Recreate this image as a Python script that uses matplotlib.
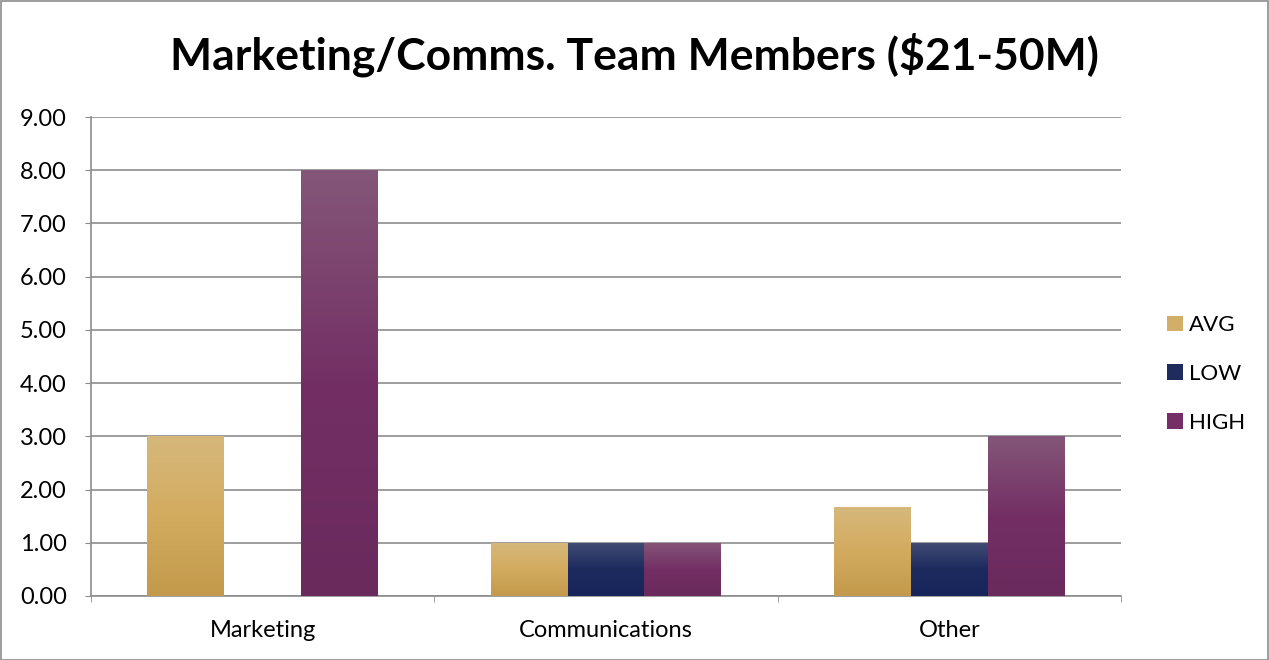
import matplotlib.pyplot as plt
import numpy as np
from matplotlib.colors import LinearSegmentedColormap
from matplotlib.patches import Patch, Rectangle

plt.rcParams["font.family"] = ["Lato", "DejaVu Sans"]

categories = ["Marketing", "Communications", "Other"]
series_names = ["AVG", "LOW", "HIGH"]
avg_values = [3.0, 1.0, 1.67]
low_values = [0.0, 1.0, 1.0]
high_values = [8.0, 1.0, 3.0]
y_ticks = [0, 1, 2, 3, 4, 5, 6, 7, 8, 9]

# top, middle, bottom tones of each bar gradient
GRADIENTS = {
    "AVG": ["#d6b87c", "#d3ab5f", "#c39a4c"],
    "LOW": ["#424d74", "#1c2a5e", "#17255a"],
    "HIGH": ["#845679", "#732f64", "#6a2a5c"],
}
SWATCH = {"AVG": "#d3ae68", "LOW": "#1f2b5c", "HIGH": "#752f66"}
BAR_WIDTH = 0.224


def gradient_bar(ax, x0, height, width, stops):
    if height <= 0:
        return
    cmap = LinearSegmentedColormap.from_list("g", stops[::-1])
    grad = np.linspace(0, 1, 256).reshape(-1, 1)
    img = ax.imshow(
        grad,
        cmap=cmap,
        origin="lower",
        aspect="auto",
        extent=(x0, x0 + width, 0, height),
        zorder=3,
        interpolation="bicubic",
    )
    clip = Rectangle((x0, 0), width, height, transform=ax.transData)
    img.set_clip_path(clip)


fig = plt.figure(figsize=(12.69, 6.6), dpi=100)
ax = fig.add_axes([91 / 1269, 1 - 596 / 660, 1030 / 1269, 479 / 660])

x = np.arange(len(categories))
values = {"AVG": avg_values, "LOW": low_values, "HIGH": high_values}
for i, name in enumerate(series_names):
    offset = (i - 1) * BAR_WIDTH
    for xi, v in zip(x, values[name]):
        gradient_bar(ax, xi + offset - BAR_WIDTH / 2, v, BAR_WIDTH, GRADIENTS[name])

ax.set_xlim(-0.5, len(categories) - 0.5)
ax.set_ylim(0, 9)
ax.set_yticks(y_ticks)
ax.set_yticklabels([f"{t:.2f}" for t in y_ticks], fontsize=17)
ax.set_xticks(x)
ax.set_xticklabels(categories, fontsize=17)
ax.tick_params(axis="x", length=0, pad=17)
ax.set_xticks(np.arange(-0.5, len(categories)), minor=True)
ax.tick_params(axis="x", which="minor", length=4.3, color="#8c8c8c")
ax.tick_params(axis="y", length=4.3, color="#8c8c8c", pad=13)
ax.grid(axis="y", color="#8c8c8c", linewidth=1.2, zorder=0)
ax.set_axisbelow(True)
for side in ("top", "right"):
    ax.spines[side].set_visible(False)
for side in ("left", "bottom"):
    ax.spines[side].set_color("#8c8c8c")
    ax.spines[side].set_linewidth(1.2)

fig.text(0.5, 1 - 55 / 660, "Marketing/Comms. Team Members ($21-50M)",
         ha="center", va="center", fontsize=32, fontweight="bold")

handles = [Patch(facecolor=SWATCH[n], label=n) for n in series_names]
fig.legend(handles=handles, loc="center left", bbox_to_anchor=(1147 / 1269, 1 - 374 / 660),
           frameon=False, fontsize=16, handlelength=0.7, handleheight=0.7,
           handletextpad=0.3, labelspacing=1.3)

fig.patches.append(Rectangle((0.5 / 1269, 0.5 / 660), 1 - 1.5 / 1269, 1 - 1.5 / 660,
                             transform=fig.transFigure, fill=False,
                             edgecolor="#8c8c8c", linewidth=1.2))

fig.savefig("out.png", dpi=100)
